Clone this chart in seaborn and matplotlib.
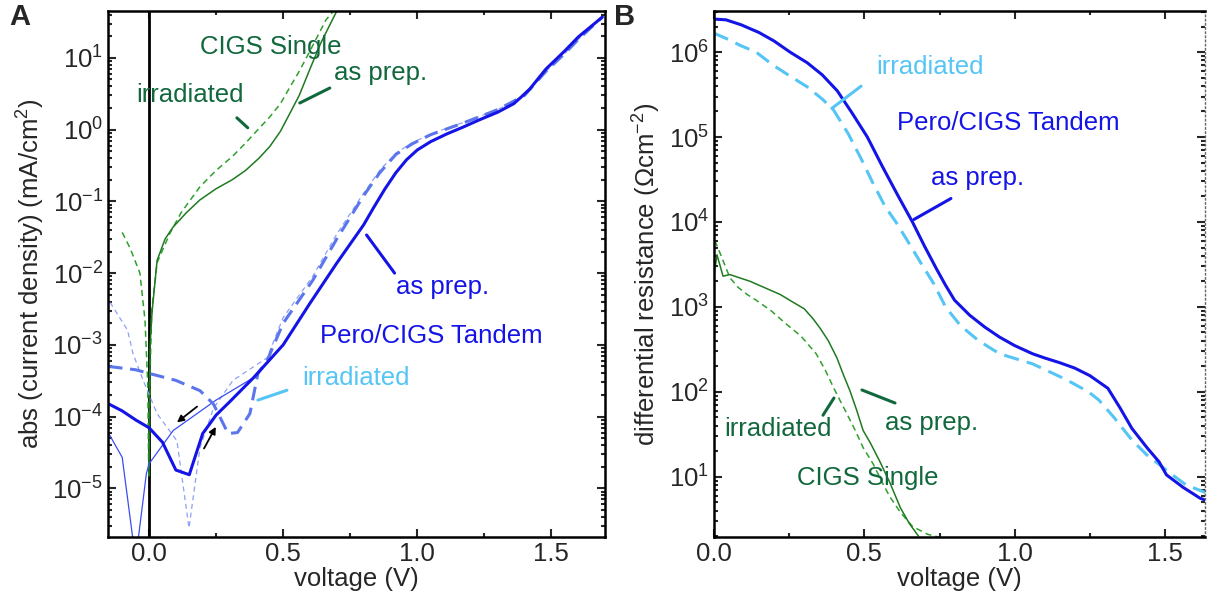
import numpy as np
import pandas as pd
import seaborn as sns
import matplotlib.pyplot as plt
from matplotlib.ticker import FixedLocator, LogLocator, MultipleLocator

# ---- panel A: abs(current density) vs voltage ----
tan_prep_v = [-0.15, -0.10, -0.05, 0.0, 0.05, 0.10, 0.15, 0.20, 0.25, 0.30, 0.39, 0.50, 0.60, 0.70,
              0.80, 0.84, 0.88, 0.92, 0.96, 1.00, 1.05, 1.11, 1.17, 1.23, 1.30, 1.36, 1.39, 1.42, 1.48,
              1.55, 1.60, 1.69]
tan_prep_j = [1.5e-4, 1.2e-4, 9e-5, 7e-5, 4.4e-5, 1.8e-5, 1.55e-5, 5.8e-5, 1.05e-4, 1.6e-4, 3.5e-4, 1.0e-3,
              3.8e-3, 0.0138, 0.047, 0.085, 0.15, 0.25, 0.38, 0.52, 0.68, 0.87, 1.08, 1.36, 1.75, 2.3,
              2.9, 3.7, 7.0, 12.5, 19.5, 37]

tan_prep_rev_v = [-0.15, -0.10, -0.05, -0.01, 0.0, 0.09, 0.25, 0.39, 0.45, 0.50, 0.60]
tan_prep_rev_j = [5.8e-5, 2.7e-5, 1.0e-6, 1.6e-5, 2.2e-5, 6.4e-5, 1.7e-4, 3.5e-4, 6.2e-4, 1.0e-3, 3.8e-3]

tan_irr_v = [-0.15, -0.05, 0.0, 0.10, 0.19, 0.24, 0.295, 0.33, 0.376, 0.406, 0.44, 0.50, 0.61, 0.70,
             0.80, 0.86, 0.92, 0.98, 1.05, 1.17, 1.30, 1.40, 1.48, 1.55, 1.60, 1.69]
tan_irr_j = [5.0e-4, 4.5e-4, 4.0e-4, 3.2e-4, 2.3e-4, 1.5e-4, 5.8e-5, 6e-5, 1.1e-4, 4e-4, 6e-4, 2.0e-3, 7.9e-3, 0.03,
             0.12, 0.25, 0.45, 0.63, 0.85, 1.23, 1.9, 3.0, 6.5, 11.5, 18, 37]

tan_irr_rev_v = [-0.145, -0.08, -0.06, -0.022, 0.03, 0.104, 0.149, 0.19, 0.24, 0.313, 0.44, 0.50, 0.61,
                 0.70, 0.80, 0.86, 0.92, 0.98, 1.05, 1.17, 1.30, 1.40, 1.48, 1.55, 1.60, 1.69]
tan_irr_rev_j = [3.9e-3, 1.6e-3, 7.6e-4, 3.2e-4, 1.1e-4, 4.6e-5, 2.8e-6, 3.7e-5, 1.3e-4, 3.2e-4, 6.6e-4, 2.4e-3, 9e-3,
                 0.035, 0.13, 0.27, 0.47, 0.65, 0.87, 1.25, 1.9, 3.0, 6.5, 11.5, 18, 37]

cigs_prep_v = [0.0, 0.004, 0.011, 0.03, 0.06, 0.09, 0.14, 0.19, 0.25, 0.31, 0.36, 0.41, 0.45, 0.49,
               0.52, 0.56, 0.60, 0.64, 0.70]
cigs_prep_j = [1.5e-5, 1.0e-3, 2.8e-3, 0.015, 0.03, 0.044, 0.07, 0.105, 0.15, 0.20, 0.27, 0.40, 0.58, 0.95,
               1.55, 3.0, 7.0, 16, 45]

cigs_irr_v = [-0.10, -0.07, -0.034, -0.015, -0.005, -0.001, 0.003, 0.01, 0.03, 0.078, 0.12, 0.19, 0.25,
              0.31, 0.36, 0.406, 0.45, 0.49, 0.53, 0.56, 0.60, 0.66, 0.69]
cigs_irr_j = [0.037, 0.022, 0.010, 2.2e-3, 3e-4, 1.5e-5, 3e-4, 3e-3, 0.014, 0.036, 0.07, 0.16, 0.27,
              0.42, 0.65, 1.0, 1.5, 2.3, 4.2, 6.5, 12.5, 34, 46]

decades_a = [1e-5, 1e-4, 1e-3, 1e-2, 1e-1, 1e0, 1e1]

# ---- panel B: differential resistance vs voltage ----
tan_prep_b_v = [0.0, 0.04, 0.09, 0.15, 0.20, 0.253, 0.31, 0.36, 0.41, 0.46, 0.51, 0.56, 0.61, 0.66,
                0.70, 0.74, 0.77, 0.80, 0.85, 0.90, 0.95, 1.00, 1.06, 1.10, 1.15, 1.20, 1.25, 1.31,
                1.35, 1.39, 1.44, 1.48, 1.505, 1.56, 1.616, 1.64]
tan_prep_b_r = [2.45e6, 2.4e6, 2.1e6, 1.7e6, 1.35e6, 1.0e6, 7.5e5, 5.4e5, 3.5e5, 1.9e5, 1.0e5, 4.5e4, 2.1e4,
                1.0e4, 5.2e3, 2.8e3, 1.8e3, 1.2e3, 800, 580, 440, 350, 280, 250, 220, 190, 155, 110,
                65, 37, 22, 15, 10.5, 7.5, 5.6, 5.2]

tan_irr_b_v = [0.0, 0.05, 0.087, 0.14, 0.197, 0.25, 0.31, 0.36, 0.397, 0.446, 0.49, 0.53, 0.57, 0.605,
               0.65, 0.69, 0.73, 0.77, 0.82, 0.88, 0.95, 1.06, 1.17, 1.245, 1.28, 1.33, 1.39, 1.44,
               1.48, 1.51, 1.57, 1.64]
tan_irr_b_r = [1.67e6, 1.4e6, 1.2e6, 1.0e6, 7.0e5, 5.3e5, 3.9e5, 2.8e5, 2.1e5, 1.1e5, 5.5e4, 2.8e4, 1.5e4,
               1.0e4, 5.5e3, 3.2e3, 1.9e3, 1.0e3, 600, 400, 280, 213, 140, 100, 80, 50, 27, 18,
               14, 11.5, 8.0, 6.4]

cigs_prep_b_v = [0.0, 0.01, 0.03, 0.053, 0.12, 0.22, 0.26, 0.30, 0.33, 0.353, 0.38, 0.409, 0.43, 0.452,
                 0.475, 0.496, 0.52, 0.552, 0.585, 0.62, 0.65, 0.68]
cigs_prep_b_r = [2.4e3, 4.1e3, 2.3e3, 2.4e3, 2.0e3, 1.4e3, 1.15e3, 950, 720, 560, 400, 250, 160, 103,
                 60, 35, 25, 15, 8.5, 4.3, 2.8, 2.0]

cigs_irr_b_v = [0.003, 0.02, 0.053, 0.08, 0.11, 0.14, 0.19, 0.24, 0.29, 0.34, 0.37, 0.396, 0.42, 0.442,
                0.47, 0.496, 0.53, 0.56, 0.585, 0.62, 0.66, 0.71, 0.76]
cigs_irr_b_r = [6e3, 4.3e3, 2.2e3, 1.7e3, 1.4e3, 1.2e3, 900, 630, 450, 280, 180, 115, 78, 55,
                35, 22, 14, 8.5, 5.8, 3.8, 2.6, 2.1, 1.9]

decades_b = [1e1, 1e2, 1e3, 1e4, 1e5, 1e6]

BLUE = "#1414e6"
BLUE_IRR = "#5b76ec"
BLUE_THIN = "#3a4ef0"
BLUE_THIN_D = "#8fa0f5"
CYAN = "#55c5f5"
GREEN = "#1f7a1f"
GREEN_D = "#2ea02e"
GTEXT = "#11683c"

sns.set_theme(style="ticks")
plt.rcParams["font.family"] = ["Liberation Sans", "DejaVu Sans"]
plt.rcParams["mathtext.fontset"] = "custom"
plt.rcParams["mathtext.rm"] = "Liberation Sans"
plt.rcParams["mathtext.it"] = "Liberation Sans:italic"
plt.rcParams["mathtext.bf"] = "Liberation Sans:bold"

FS = 18.5

fig = plt.figure(figsize=(12.07, 6.08), dpi=100)
axA = fig.add_axes([108 / 1207, 1 - 537 / 608, 497 / 1207, 526 / 608])
axB = fig.add_axes([714 / 1207, 1 - 537 / 608, 491 / 1207, 526 / 608])


def line(ax, x, y, color, lw, ls="-"):
    sns.lineplot(x=x, y=y, ax=ax, color=color, lw=lw, linestyle=ls,
                 sort=False, estimator=None)


def pointer(ax, p0, p1, color, lw=2.2):
    ax.annotate("", xy=p1, xytext=p0,
                arrowprops=dict(arrowstyle="-", color=color, lw=lw, shrinkA=0, shrinkB=0))


# panel A
axA.axvline(0, color="black", lw=2)
line(axA, cigs_irr_v, cigs_irr_j, GREEN_D, 1.1, (0, (4, 2.7)))
line(axA, cigs_prep_v, cigs_prep_j, GREEN, 1.1)
line(axA, tan_irr_rev_v, tan_irr_rev_j, BLUE_THIN_D, 0.9, (0, (4, 3)))
line(axA, tan_prep_rev_v, tan_prep_rev_j, BLUE_THIN, 0.9)
line(axA, tan_irr_v, tan_irr_j, BLUE_IRR, 2.2, (0, (4.5, 2.5)))
line(axA, tan_prep_v, tan_prep_j, BLUE, 2.2)

axA.set_yscale("log")
axA.yaxis.set_major_locator(FixedLocator(decades_a))
axA.set_xlim(-0.153, 1.70)
axA.set_ylim(2.1e-6, 45)
axA.set_xlabel("voltage (V)", fontsize=FS, labelpad=1)
axA.set_ylabel("abs (current density) (mA/cm$^{2}$)", fontsize=FS, labelpad=4)

axA.text(0.454, 14.2, "CIGS Single", color=GTEXT, fontsize=FS, ha="center", va="center")
axA.text(0.863, 6.2, "as prep.", color=GTEXT, fontsize=FS, ha="center", va="center")
pointer(axA, (0.562, 2.35), (0.674, 3.8), GTEXT)
axA.text(0.153, 3.05, "irradiated", color=GTEXT, fontsize=FS, ha="center", va="center")
pointer(axA, (0.3275, 1.46), (0.368, 1.06), GTEXT)
axA.text(1.094, 6.4e-3, "as prep.", color=BLUE, fontsize=FS, ha="center", va="center")
pointer(axA, (0.811, 0.034), (0.9155, 1.0e-2), BLUE)
axA.text(1.053, 1.33e-3, "Pero/CIGS Tandem", color=BLUE, fontsize=FS, ha="center", va="center")
axA.text(0.770, 3.44e-4, "irradiated", color=CYAN, fontsize=FS, ha="center", va="center")
pointer(axA, (0.406, 1.7e-4), (0.514, 2.33e-4), CYAN)
axA.annotate("", xy=(0.104, 8.3e-5), xytext=(0.179, 1.38e-4),
             arrowprops=dict(arrowstyle="-|>", color="black", lw=1.3, mutation_scale=10,
                             shrinkA=0, shrinkB=0))
axA.annotate("", xy=(0.249, 7.2e-5), xytext=(0.205, 3.6e-5),
             arrowprops=dict(arrowstyle="-|>", color="black", lw=1.3, mutation_scale=10,
                             shrinkA=0, shrinkB=0))

# panel B
line(axB, cigs_irr_b_v, cigs_irr_b_r, GREEN_D, 1.1, (0, (4, 2.7)))
line(axB, cigs_prep_b_v, cigs_prep_b_r, GREEN, 1.1)
line(axB, tan_irr_b_v, tan_irr_b_r, CYAN, 2.2, (0, (5, 2.7)))
line(axB, tan_prep_b_v, tan_prep_b_r, BLUE, 2.2)

axB.set_yscale("log")
axB.yaxis.set_major_locator(FixedLocator(decades_b))
axB.set_xlim(0, 1.633)
axB.set_ylim(1.95, 3.05e6)
axB.set_xlabel("voltage (V)", fontsize=FS, labelpad=1)
axB.set_ylabel("differential resistance (Ωcm$^{-2}$)", fontsize=FS, labelpad=4)

axB.text(0.718, 6.65e5, "irradiated", color=CYAN, fontsize=FS, ha="center", va="center")
pointer(axB, (0.392, 2.18e5), (0.489, 3.97e5), CYAN)
axB.text(0.978, 1.45e5, "Pero/CIGS Tandem", color=BLUE, fontsize=FS, ha="center", va="center")
axB.text(0.878, 3.25e4, "as prep.", color=BLUE, fontsize=FS, ha="center", va="center")
pointer(axB, (0.665, 1.07e4), (0.788, 1.89e4), BLUE)
axB.text(0.213, 36.4, "irradiated", color=GTEXT, fontsize=FS, ha="center", va="center")
pointer(axB, (0.3625, 53), (0.399, 84.5), GTEXT)
axB.text(0.725, 42.8, "as prep.", color=GTEXT, fontsize=FS, ha="center", va="center")
pointer(axB, (0.492, 105), (0.602, 73.8), GTEXT)
axB.text(0.512, 9.6, "CIGS Single", color=GTEXT, fontsize=FS, ha="center", va="center")

for ax in (axA, axB):
    ax.xaxis.set_major_locator(FixedLocator([0.0, 0.5, 1.0, 1.5]))
    ax.xaxis.set_minor_locator(MultipleLocator(0.25))
    ax.yaxis.set_minor_locator(LogLocator(base=10, subs=np.arange(2, 10), numticks=20))
    ax.tick_params(which="both", direction="in", top=True, right=True, width=1.5, labelsize=FS)
    ax.tick_params(which="major", length=6)
    ax.tick_params(which="minor", length=3)
    ax.xaxis.set_major_formatter(plt.FuncFormatter(lambda v, p: f"{v:.1f}"))
    for s in ax.spines.values():
        s.set_linewidth(1.8)
        s.set_color("black")

axA.set_xlim(-0.153, 1.70)
axA.set_ylim(2.1e-6, 45)
axB.set_xlim(0, 1.633)
axB.set_ylim(1.95, 3.05e6)

axB.spines["right"].set_linestyle((0, (1, 2)))
axB.spines["right"].set_color("#666666")
axB.spines["right"].set_linewidth(1.0)

fig.text(0.008, 0.995, "A", fontsize=21, fontweight="bold", va="top")
fig.text(0.509, 0.995, "B", fontsize=21, fontweight="bold", va="top")

fig.savefig("out.png", dpi=100)
